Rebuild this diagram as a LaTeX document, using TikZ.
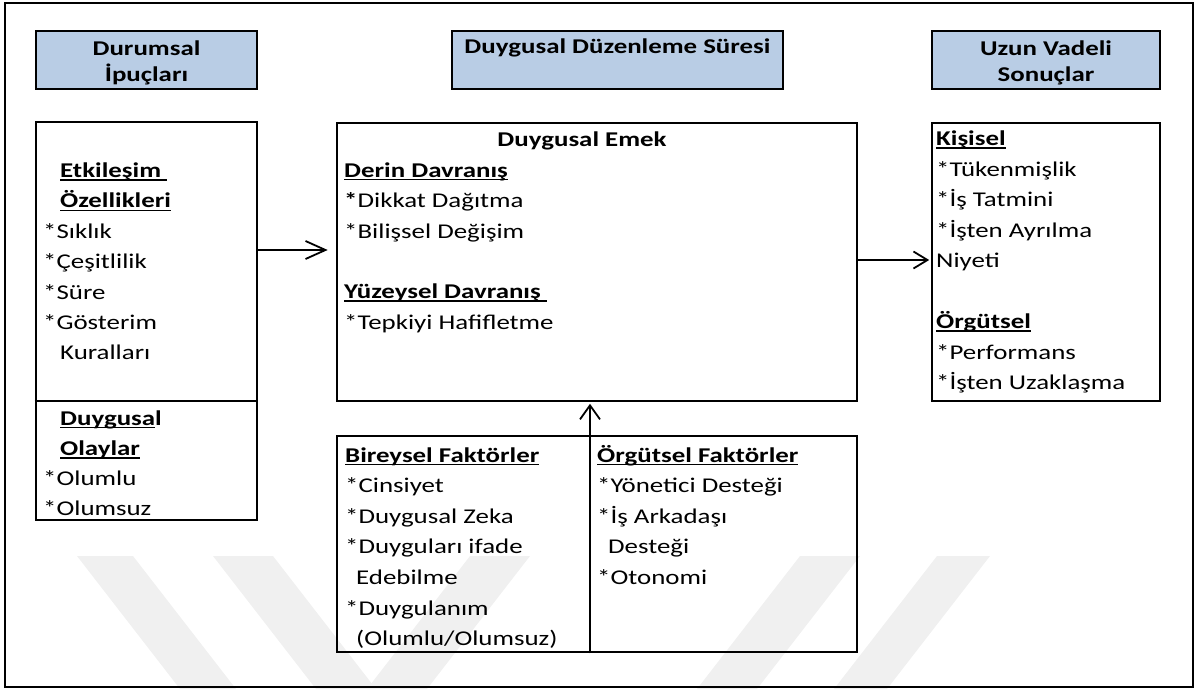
\documentclass[tikz,border=0pt]{standalone}
\usepackage{fontspec}
\setmainfont{Carlito}[FakeStretch=1.28]
\usetikzlibrary{arrows.meta}
\definecolor{hdrblue}{HTML}{B9CDE5}
\definecolor{wmgray}{HTML}{F0F0F0}
% underline at a fixed depth below the baseline
\newcommand\ulx[1]{\setbox0=\hbox{#1}\rlap{\rule[-3.4pt]{\wd0}{1.6pt}}\box0}
\begin{document}
\begin{tikzpicture}[x=1pt,y=-1pt,
  box/.style={draw, line width=2.6pt, rectangle, inner sep=0pt},
  hdr/.style={box, fill=hdrblue},
  txt/.style={anchor=base west, inner sep=0pt, font=\fontsize{21}{25}\selectfont},
  ctxt/.style={txt, anchor=base},
  arrline/.style={line width=1.8pt},
  wm/.style={fill=wmgray, draw=none}]

\useasboundingbox (0,0) rectangle (1195,689);

% faint background stripes
\fill[wm] (77,556) -- (133,556) -- (236,689) -- (180,689) -- cycle;
\fill[wm] (213,556) -- (273,556) -- (376,689) -- (316,689) -- cycle;
\fill[wm] (470,556) -- (530,556) -- (427,689) -- (367,689) -- cycle;
\fill[wm] (800,556) -- (860,556) -- (757,689) -- (697,689) -- cycle;
\fill[wm] (937,556) -- (990,556) -- (887,689) -- (834,689) -- cycle;

% outer frame
\node[draw, line width=1.8pt, inner sep=0pt, minimum width=1188pt, minimum height=684pt] (frame) at (599,345) {};

% header boxes
\node[hdr, minimum width=221pt, minimum height=58pt] (h1) at (146.5,60) {};
\node[hdr, minimum width=331pt, minimum height=58pt] (h2) at (617.5,60) {};
\node[hdr, minimum width=228pt, minimum height=58pt] (h3) at (1046,60) {};
\node[ctxt] (h1a) at (146.5,55) {\textbf{Durumsal}};
\node[ctxt] (h1b) at (146.5,81) {\textbf{İpuçları}};
\node[ctxt] (h2a) at (617.5,53) {\textbf{Duygusal Düzenleme Süresi}};
\node[ctxt] (h3a) at (1046,55) {\textbf{Uzun Vadeli}};
\node[ctxt] (h3b) at (1046,81) {\textbf{Sonuçlar}};

% content boxes
\node[box, minimum width=221pt, minimum height=398pt] (lbox) at (146.5,321) {};
\node[box, minimum width=520pt, minimum height=278pt] (mbox) at (597,262) {};
\node[box, minimum width=228pt, minimum height=278pt] (rbox) at (1046,262) {};
\node[box, minimum width=520pt, minimum height=216pt] (bbox) at (597,544) {};

% divider of the left box
\coordinate (ldiv) at (0,401);
\draw[line width=2.6pt] (lbox.west |- ldiv) -- (lbox.east |- ldiv);

% left box: interaction features
\foreach \t [count=\i] in {{\hspace*{17pt}\textbf{\ulx{Etkileşim\ }}},
    {\hspace*{17pt}\textbf{\ulx{Özellikleri}}},
    *Sıklık, *Çeşitlilik, *Süre, *Gösterim, {\hspace*{17pt}Kuralları}}
  \node[txt] (la\i) at (43,{177.5+30.4*(\i-1)}) {\t};

% left box: emotional events
\foreach \t [count=\i] in {{\hspace*{17pt}\textbf{\ulx{Duygusa}l}},
    {\hspace*{17pt}\textbf{\ulx{Olaylar}}}, *Olumlu, *Olumsuz}
  \node[txt] (lb\i) at (43,{425+30.3*(\i-1)}) {\t};

% middle box: emotional labour
\node[ctxt] (m0) at (582,146.5) {\textbf{Duygusal Emek}};
\node[txt] (m1) at (344,177) {\textbf{\ulx{Derin Davranış}}};
\node[txt] (m2) at (344,207.5) {\textbf{*}Dikkat Dağıtma};
\node[txt] (m3) at (344,238) {*Bilişsel Değişim};
\node[txt] (m4) at (344,298.5) {\textbf{\ulx{Yüzeysel Davranış\ }}};
\node[txt] (m5) at (344,329) {*Tepkiyi Hafifletme};

% right box: outcomes
\node[txt] (r1) at (936,145.5) {\textbf{\ulx{Kişisel}}};
\node[txt] (r2) at (936,176) {*Tükenmişlik};
\node[txt] (r3) at (936,206.5) {*İş Tatmini};
\node[txt] (r4) at (936,237) {*İşten Ayrılma};
\node[txt] (r5) at (936,267.5) {Niyeti};
\node[txt] (r6) at (936,328.5) {\textbf{\ulx{Örgütsel}}};
\node[txt] (r7) at (936,359) {*Performans};
\node[txt] (r8) at (936,389.5) {*İşten Uzaklaşma};

% bottom box: individual factors
\foreach \t [count=\i] in {{\textbf{\ulx{Bireysel Faktörler}}}, *Cinsiyet,
    *Duygusal Zeka, *Duyguları ifade, {\hspace*{11pt}Edebilme},
    *Duygulanım, {\hspace*{11pt}(Olumlu/Olumsuz)}}
  \node[txt] (ba\i) at (345,{462+30.6*(\i-1)}) {\t};

% bottom box: organisational factors
\foreach \t [count=\i] in {{\textbf{\ulx{Örgütsel Faktörler}}}, *Yönetici Desteği,
    *İş Arkadaşı, {\hspace*{11pt}Desteği}, *Otonomi}
  \node[txt] (bb\i) at (597,{462+30.6*(\i-1)}) {\t};

% connectors
\coordinate (a1) at (0,250);
\coordinate (a2) at (0,260);
\coordinate (a3) at (590,0);
\draw[arrline, -{Straight Barb[length=20pt,width=18pt]}, shorten >=8pt]
  (lbox.east |- a1) -- (mbox.west |- a1);
\draw[arrline, -{Straight Barb[length=14pt,width=17pt]}, shorten >=1.5pt]
  (mbox.east |- a2) -- (rbox.west |- a2);
\draw[arrline, -{Straight Barb[length=14pt,width=20pt]}, shorten >=1.5pt]
  (bbox.south -| a3) -- (mbox.south -| a3);
\end{tikzpicture}
\end{document}
